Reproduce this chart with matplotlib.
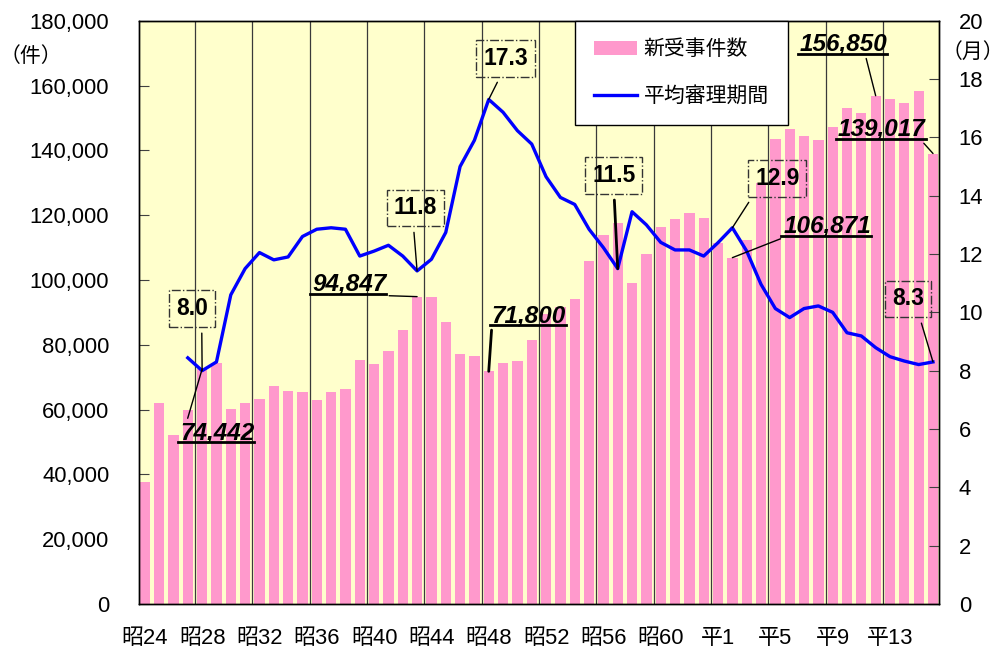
import numpy as np
import matplotlib
matplotlib.use('Agg')
import matplotlib.pyplot as plt
from matplotlib.lines import Line2D
from matplotlib.text import Text
from matplotlib.ticker import FuncFormatter
from matplotlib.transforms import IdentityTransform

plt.rcParams['font.family'] = ['Liberation Sans', 'Noto Sans CJK JP']

# 昭24 ... 昭63, 平1 ... 平16
years = [f'昭{n}' for n in range(24, 64)] + [f'平{n}' for n in range(1, 17)]
tick_labels = ['昭24', '昭28', '昭32', '昭36', '昭40', '昭44', '昭48',
               '昭52', '昭56', '昭60', '平1', '平5', '平9', '平13']

# 新受事件数 (件)
cases = [37800, 61900, 52000, 59800, 72500, 74442, 60300, 61900, 63300, 67200,
         65700, 65300, 62800, 65300, 66200, 75150, 74100, 78000, 84500, 94847,
         94600, 86900, 77100, 76600, 71800, 74500, 75100, 81400, 89600, 91500,
         94200, 106000, 113800, 117700, 99200, 107900, 116300, 118800, 120600, 119200,
         111300, 106871, 112300, 129900, 143500, 146600, 144500, 143200, 147100, 153000,
         151500, 156850, 155900, 154500, 158300, 139017]

# 平均審理期間 (月), from 昭27 on
period_start = 3
period = [8.44, 8.0, 8.3, 10.6, 11.5, 12.05, 11.8, 11.9, 12.6, 12.85,
          12.9, 12.85, 11.93, 12.1, 12.3, 11.93, 11.42, 11.82, 12.74, 15.0,
          15.9, 17.3, 16.86, 16.23, 15.77, 14.65, 13.94, 13.7, 12.85, 12.22,
          11.5, 13.45, 13.0, 12.4, 12.14, 12.14, 11.93, 12.39, 12.9, 12.1,
          10.96, 10.13, 9.82, 10.13, 10.22, 10.0, 9.3, 9.19, 8.79, 8.48,
          8.33, 8.21, 8.3]

# callouts: (index, text, offset px, leader start relpos, leader width)
case_notes = [
    (4, '74,442', (-22, -75), (0, 0), 1.0),
    (19, '94,847', (-105, 1), (1, 0), 1.0),
    (24, '71,800', (3, 44), (0, 0), 2.0),
    (41, '106,871', (51, 20), (0, 0), 1.0),
    (51, '156,850', (-76, 40), (0.75, 0), 1.0),
    (55, '139,017', (-95, 13), (0.95, 0), 1.0),
]
period_notes = [
    (4, '8.0', (-10, 62), (0.8, 0), 1.0),
    (19, '11.8', (-2, 63), (0.45, 0), 1.0),
    (24, '17.3', (17, 41), (0.45, 0), 1.0),
    (33, '11.5', (-4, 93), (0.5, 0), 2.0),
    (41, '12.9', (45, 49), (0.03, 0), 1.0),
    (55, '8.3', (-25, 63), (0.8, 0), 1.0),
]

W, H = 1003, 650
fig = plt.figure(figsize=(W / 100, H / 100), dpi=100)
ax = fig.add_axes([138.5 / W, 1 - 604 / H, 800.8 / W, 583.3 / H])

x = np.arange(len(years))
bars = ax.bar(x, cases, width=0.72, color='#FF99CC', zorder=2, label='新受事件数')
ax.set_facecolor('#FFFFCC')
ax.set_xlim(-0.44, len(years) - 0.56)
ax.set_ylim(0, 180000)
ax.set_yticks(range(0, 180001, 20000))
ax.yaxis.set_major_formatter(FuncFormatter(lambda v, p: f'{int(v):,}'))
ax.tick_params(axis='y', direction='in', length=7, pad=21, labelsize=15.8, color='#404040')

tick_pos = [years.index(t) for t in tick_labels]
ax.set_xticks(tick_pos, tick_labels)
ax.tick_params(axis='x', length=0, pad=17, labelsize=15.8)
for p in tick_pos[1:]:
    ax.axvline(p - 0.5, color='#3a3a3a', lw=0.9, zorder=1)

ax2 = ax.twinx()
line, = ax2.plot(x[period_start:], period, color='#0000FF', lw=2.4, zorder=3,
                 label='平均審理期間')
ax2.set_ylim(0, 20)
ax2.set_yticks(range(0, 21, 2))
ax2.tick_params(axis='y', direction='in', length=7, pad=14, labelsize=15.8, color='#404040')

for a in (ax, ax2):
    for s in a.spines.values():
        s.set_color('black')
        s.set_linewidth(1.0)

leg = ax2.legend(handles=[bars, line], loc='upper left', bbox_to_anchor=(0.545, 1.0),
                 borderaxespad=0, fontsize=15, frameon=True, fancybox=False,
                 edgecolor='black', framealpha=1, borderpad=0.9,
                 handlelength=2.1, handletextpad=0.3, labelspacing=1.3)
leg.get_frame().set_linewidth(1.0)
leg.set_zorder(5)

fig.text(0 / W, 1 - 56 / H, '（件）', fontsize=15, ha='left', va='center')
fig.text(942 / W, 1 - 52 / H, '（月）', fontsize=15, ha='left', va='center')

case_texts = []
for i, txt, off, rp, lw in case_notes:
    t = ax2.annotate(txt, xy=(i, cases[i] / 9000), xytext=off, textcoords='offset pixels',
                     ha='left', va='bottom', fontsize=17.5, fontweight='bold',
                     fontstyle='italic', zorder=6,
                     arrowprops=dict(arrowstyle='-', color='black', lw=lw,
                                     shrinkA=0, shrinkB=0, relpos=rp))
    case_texts.append(t)

for i, txt, off, rp, lw in period_notes:
    ax2.annotate(txt, xy=(i, period[i - period_start]), xytext=off,
                 textcoords='offset pixels', ha='center', va='center',
                 fontsize=16.5, fontweight='bold', zorder=6,
                 bbox=dict(boxstyle='square,pad=0.3', fc='none', ec='#333333',
                           ls='-.', lw=1.0),
                 arrowprops=dict(arrowstyle='-', color='black', lw=lw,
                                 shrinkA=4, shrinkB=0, relpos=rp))

# underline the case counts (text box only, not the leader)
fig.canvas.draw()
renderer = fig.canvas.get_renderer()
for t in case_texts:
    bb = Text.get_window_extent(t, renderer)
    fig.add_artist(Line2D([bb.x0 - 2, bb.x1], [bb.y0 + 2, bb.y0 + 2], color='black',
                          lw=2.0, transform=IdentityTransform()))

fig.savefig('out.png', dpi=100, facecolor='white')
